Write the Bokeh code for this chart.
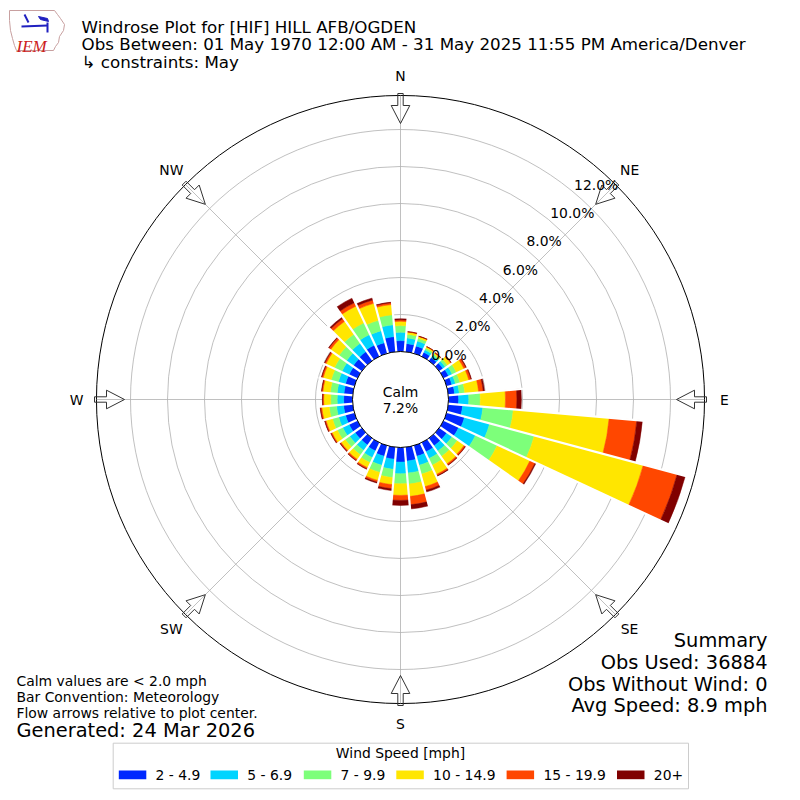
import numpy as np
from bokeh.plotting import figure
from bokeh.models import Range1d, ColumnDataSource
from bokeh.embed import file_html
from bokeh.resources import INLINE
from bokeh.core.properties import value

# ---------------- data ----------------
DIRECTIONS = list(range(0, 360, 10))
SPEED_LABELS = ["2 - 4.9", "5 - 6.9", "7 - 9.9", "10 - 14.9", "15 - 19.9", "20+"]
COLORS = ["#0028ff", "#00d4ff", "#7dff7a", "#ffe600", "#ff4700", "#800000"]

# percent of observations per direction (0..350 by 10) for each speed bin
S_2_5 = [0.59, 0.45, 0.42, 0.25, 0.22, 0.25, 0.30, 0.30, 0.35, 0.55, 0.78, 1.00,
         0.90, 0.50, 0.50, 0.55, 0.60, 0.75, 0.79, 0.65, 0.60, 0.50, 0.45, 0.45,
         0.50, 0.50, 0.50, 0.48, 0.48, 0.50, 0.50, 0.55, 0.60, 0.67, 0.60, 0.82]
S_5_7 = [0.45, 0.30, 0.27, 0.15, 0.13, 0.15, 0.22, 0.20, 0.25, 0.55, 1.10, 1.40,
         1.00, 0.35, 0.35, 0.40, 0.50, 0.65, 0.63, 0.55, 0.50, 0.40, 0.35, 0.35,
         0.38, 0.38, 0.38, 0.35, 0.37, 0.40, 0.42, 0.45, 0.55, 0.63, 0.67, 0.64]
S_7_10 = [0.36, 0.20, 0.16, 0.10, 0.10, 0.15, 0.25, 0.25, 0.30, 0.62, 1.65, 2.50,
          1.30, 0.35, 0.35, 0.40, 0.50, 0.60, 0.54, 0.45, 0.40, 0.30, 0.30, 0.30,
          0.32, 0.35, 0.40, 0.35, 0.37, 0.40, 0.45, 0.50, 0.60, 0.70, 0.58, 0.55]
S_10_15 = [0.23, 0.12, 0.10, 0.08, 0.08, 0.20, 0.45, 0.50, 0.75, 1.36, 5.20, 6.10,
           1.95, 0.45, 0.50, 0.55, 0.70, 0.67, 0.63, 0.38, 0.45, 0.30, 0.30, 0.27,
           0.32, 0.36, 0.40, 0.38, 0.40, 0.45, 0.50, 0.55, 0.85, 1.00, 0.95, 0.55]
S_15_20 = [0.08, 0.02, 0.015, 0.02, 0.02, 0.05, 0.12, 0.12, 0.25, 0.62, 1.50, 1.90,
           0.30, 0.08, 0.08, 0.08, 0.20, 0.45, 0.27, 0.22, 0.10, 0.08, 0.08, 0.06,
           0.06, 0.06, 0.07, 0.05, 0.06, 0.08, 0.08, 0.12, 0.18, 0.20, 0.19, 0.10]
S_20P = [0.06, 0.01, 0.005, 0.0, 0.0, 0.0, 0.03, 0.03, 0.07, 0.24, 0.30, 0.45,
         0.05, 0.02, 0.02, 0.02, 0.10, 0.23, 0.27, 0.10, 0.05, 0.02, 0.02, 0.02,
         0.02, 0.02, 0.02, 0.02, 0.02, 0.02, 0.02, 0.03, 0.08, 0.28, 0.11, 0.03]
SPEED_BINS = [S_2_5, S_5_7, S_7_10, S_10_15, S_15_20, S_20P]

RING_TICKS = [0, 2, 4, 6, 8, 10, 12]
R_MAX = 13.84          # outer edge of the polar axis, percent
CALM_PCT = 7.2
COMPASS = ["N", "NE", "E", "SE", "S", "SW", "W", "NW"]
COMPASS_DEG = [0, 45, 90, 135, 180, 225, 270, 315]
OBS_USED = 36884
OBS_NO_WIND = 0
AVG_SPEED = 8.9

# ---------------- layout helpers ----------------
S = 18.5               # pixels per percent
CX, CY = 400.0, 399.0  # centre in page pixels
CALM_R = 48.0 / S      # radius of calm circle in data units
FONT = value("DejaVu Sans")
W = 800


def X(px):
    return (px - CX) / S


def Y(py):
    return (CY - py) / S


def polar(r, deg):
    t = np.radians(deg)
    return r * np.sin(t), r * np.cos(t)


p = figure(width=W, height=W, output_backend="svg", toolbar_location=None,
           x_range=Range1d(X(0), X(W)), y_range=Range1d(Y(W), Y(0)),
           min_border=0)
p.axis.visible = False
p.grid.visible = False
p.outline_line_color = None
p.background_fill_color = "white"

# grid rings
ring_r = [CALM_R + t for t in RING_TICKS]
p.circle(x=[0] * len(ring_r), y=[0] * len(ring_r), radius=ring_r,
         fill_color=None, line_color="#b0b0b0", line_width=0.8)
# radial grid lines
gx0, gy0 = polar(CALM_R, np.array(COMPASS_DEG))
gx1, gy1 = polar(CALM_R + R_MAX, np.array(COMPASS_DEG))
p.segment(x0=gx0, y0=gy0, x1=gx1, y1=gy1, line_color="#b0b0b0", line_width=0.8)

# bars
dirs = np.array(DIRECTIONS, dtype=float)
cum = np.zeros(len(dirs))
for vals, col in zip(SPEED_BINS, COLORS):
    v = np.array(vals)
    src = ColumnDataSource(dict(
        x=np.zeros(len(dirs)), y=np.zeros(len(dirs)),
        inner=CALM_R + cum, outer=CALM_R + cum + v,
        start=np.radians(90 - dirs - 5), end=np.radians(90 - dirs + 5)))
    p.annular_wedge(x="x", y="y", inner_radius="inner", outer_radius="outer",
                    start_angle="start", end_angle="end", source=src,
                    fill_color=col, line_color=col, line_width=0.5)
    cum = cum + v

# white gaps between neighbouring bars
tot = cum
gap_len = np.maximum(tot, np.roll(tot, -1)) + 0.15
bx0, by0 = polar(CALM_R - 0.05, dirs + 5)
bx1, by1 = polar(CALM_R + gap_len, dirs + 5)
p.segment(x0=bx0, y0=by0, x1=bx1, y1=by1, line_color="white", line_width=2.2)

# calm circle
p.circle(x=[0], y=[0], radius=[CALM_R], fill_color="white", line_color="black",
         line_width=1)
# outer circle
p.circle(x=[0], y=[0], radius=[CALM_R + R_MAX], fill_color=None,
         line_color="black", line_width=1)

# flow arrows (outline only, pointing to the centre)
shape = [(276, 0), (294, 9.3), (294, 2.7), (306, 2.7), (306, -2.7), (294, -2.7),
         (294, -9.3)]
axs, ays = [], []
for d in COMPASS_DEG:
    t = np.radians(d)
    u = np.array([np.sin(t), np.cos(t)])
    w = np.array([np.cos(t), -np.sin(t)])
    pts = [(r * u + q * w) / S for r, q in shape]
    axs.append([pt[0] for pt in pts])
    ays.append([pt[1] for pt in pts])
p.patches(xs=axs, ys=ays, fill_color=None, line_color="#333333", line_width=1)

# compass labels
lx, ly = polar(324 / S, np.array(COMPASS_DEG))
p.text(x=lx, y=ly, text=COMPASS, text_align="center", text_baseline="middle",
       text_font=FONT, text_font_size=value("13.9px"), text_color="black")

# ring labels
rx, ry = polar(np.array(ring_r), 40)
p.text(x=rx, y=ry, text=[f"{t:.1f}%" for t in RING_TICKS], text_align="left",
       text_baseline="bottom", text_font=FONT, text_font_size=value("13.9px"),
       text_color="black")

# calm text
p.text(x=[0, 0], y=[Y(391), Y(407.5)], text=["Calm", f"{CALM_PCT:.1f}%"],
       text_align="center", text_baseline="middle", text_font=FONT,
       text_font_size=value("13.9px"), text_color="black")

# titles
p.text(x=[X(81)] * 3, y=[Y(26), Y(43.5), Y(61)],
       text=["Windrose Plot for [HIF] HILL AFB/OGDEN",
             "Obs Between: 01 May 1970 12:00 AM - 31 May 2025 11:55 PM America/Denver",
             " \u21b3 constraints: May"],
       text_align="left", text_baseline="alphabetic", text_font=FONT,
       text_font_size=value("16.7px"), text_color="black")

# notes bottom-left
p.text(x=[X(16)] * 3, y=[Y(680), Y(696), Y(712)],
       text=["Calm values are < 2.0 mph", "Bar Convention: Meteorology",
             "Flow arrows relative to plot center."],
       text_align="left", text_baseline="middle", text_font=FONT,
       text_font_size=value("13.9px"), text_color="black")
p.text(x=[X(16)], y=[Y(729.5)], text=["Generated: 24 Mar 2026"],
       text_align="left", text_baseline="middle", text_font=FONT,
       text_font_size=value("19.4px"), text_color="black")

# summary bottom-right
p.text(x=[X(767)] * 4, y=[Y(640), Y(662), Y(684), Y(705)],
       text=["Summary", f"Obs Used: {OBS_USED}", f"Obs Without Wind: {OBS_NO_WIND}",
             f"Avg Speed: {AVG_SPEED} mph"],
       text_align="right", text_baseline="middle", text_font=FONT,
       text_font_size=value("19.4px"), text_color="black")

# legend
p.quad(left=[X(112.7)], right=[X(688)], top=[Y(742.7)], bottom=[Y(788.3)],
       fill_color="white", line_color="#cccccc", line_width=1)
p.text(x=[X(400)], y=[Y(752.5)], text=["Wind Speed [mph]"], text_align="center",
       text_baseline="middle", text_font=FONT, text_font_size=value("13.9px"),
       text_color="black")
patch_left = [118.3, 210.0, 303.3, 395.8, 506.1, 616.5]
p.quad(left=[X(a) for a in patch_left], right=[X(a + 27.5) for a in patch_left],
       top=[Y(770)] * 6, bottom=[Y(778.7)] * 6, fill_color=COLORS, line_color=None)
p.text(x=[X(a + 36.8) for a in patch_left], y=[Y(774.5)] * 6, text=SPEED_LABELS,
       text_align="left", text_baseline="middle", text_font=FONT,
       text_font_size=value("13.9px"), text_color="black")

# IEM logo (simple)
iowa = [(9, 10), (54, 10), (57, 14), (60, 18), (64, 24), (63, 30), (59, 36),
        (58, 42), (55, 46), (53, 50), (16, 50), (14, 45), (12, 38), (10, 30),
        (9, 20)]
p.patch(x=[X(a) for a, b in iowa], y=[Y(b) for a, b in iowa], fill_color=None,
        line_color="#c8a0a0", line_width=1)
p.segment(x0=[X(21), X(47), X(24)], y0=[Y(26), Y(22), Y(14)],
          x1=[X(47), X(47), X(28)], y1=[Y(25), Y(32), Y(22)],
          line_color="#2020c0", line_width=2)
p.patch(x=[X(38), X(47), X(48), X(40)], y=[Y(16), Y(18), Y(21), Y(19)],
        fill_color="#2020c0", line_color="#2020c0")
p.text(x=[X(16)], y=[Y(46)], text=["IEM"], text_align="left",
       text_baseline="alphabetic", text_font=value("Liberation Serif"),
       text_font_style="italic", text_font_size=value("17px"), text_color="#cc2020")

open("out.html", "w").write(file_html(p, INLINE))
